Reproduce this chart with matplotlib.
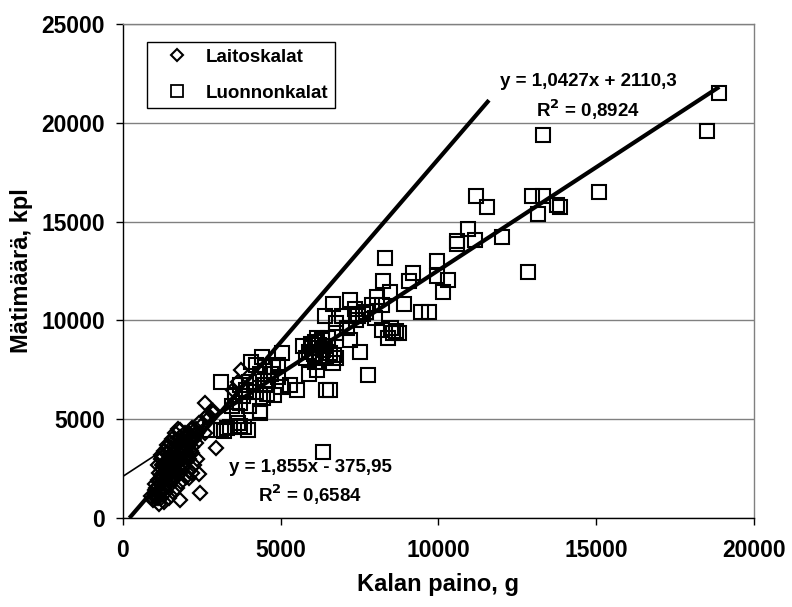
import numpy as np
import matplotlib
matplotlib.use("Agg")
import matplotlib.pyplot as plt
from matplotlib.lines import Line2D

plt.rcParams['font.family'] = ['Liberation Sans', 'DejaVu Sans']
plt.rcParams['font.weight'] = 'bold'

# Luonnonkalat (squares): paino g, mätimäärä kpl
luonto_x = [18900, 18500, 13300, 15100, 11200, 11550, 12950, 13300, 13750, 13850,
            13150, 10950, 10600, 10600, 11150, 12000, 12850, 9950, 10300, 10150,
            8300, 9200, 9050, 9950, 8250, 8450, 8050, 7200, 7350, 6650,
            7450, 7700, 7900, 8200, 8900, 9450, 9700, 6750, 7100, 7400,
            8500, 8650, 8400, 8550, 8750, 8200, 7200, 7500, 6700, 6750,
            7750, 6550, 6400, 6950, 6750, 6150, 6200, 6350, 6450, 6250,
            5900, 5800, 6550, 6650, 6150, 5900, 6450, 5500, 5050, 4900,
            4400, 4200, 4500, 4750, 4050, 4350, 4700, 4900, 5000, 5300,
            4500, 4550, 4450, 4000, 3700, 3550, 3800, 3100, 4000, 4350,
            3450, 3600, 3400, 3650, 3850, 3300, 3200, 6350, 2750, 3100,
            3700, 3950, 4350, 3550, 6000, 6100, 6300, 6050, 5950, 6200,
            6400, 5700, 6500, 6100, 4200, 4600, 3900, 4800, 3700, 7600,
            8000]
luonto_y = [21500, 19600, 19400, 16500, 16300, 15750, 16300, 16300, 15850, 15750,
            15400, 14600, 14000, 13850, 14050, 14200, 12450, 13000, 12050, 11450,
            13150, 12400, 12000, 12250, 12000, 11450, 11200, 11050, 10600, 10850,
            10200, 10450, 10800, 10800, 10850, 10400, 10400, 9850, 9600, 10000,
            9600, 9450, 9100, 9350, 9350, 9500, 9000, 8400, 8250, 8100,
            7250, 6500, 10200, 10200, 9350, 9100, 8750, 8500, 8150, 8100,
            8400, 8100, 8350, 7850, 7500, 7300, 6500, 6500, 8350, 7750,
            8150, 7750, 7650, 7650, 7900, 7300, 7300, 7150, 6650, 6750,
            6750, 6300, 6050, 6900, 6750, 6150, 6150, 6900, 5650, 5400,
            5650, 5150, 4600, 4800, 4600, 4550, 4400, 3350, 4450, 4450,
            4650, 4450, 5300, 6200, 8600, 8900, 9000, 8300, 8800, 8200,
            8700, 8700, 9100, 7900, 6400, 6950, 6500, 6200, 5800, 10300,
            10100]

# Laitoskalat (diamonds)
laitos_x = [2450, 2950, 2600, 2850, 2700, 1800, 2150, 1500, 1200, 1400,
            3650, 3750, 3500, 2650, 2850, 2200, 1150, 1800, 2400,
            950, 1000, 1050, 900, 1100, 1000, 1100,
            1150, 1200, 1250, 1200, 1300, 1150, 1250, 1300, 1200,
            1350, 1400, 1450, 1350, 1450, 1500, 1400, 1500, 1350, 1450,
            1550, 1600, 1650, 1550, 1600, 1700, 1650, 1700, 1550, 1600, 1650,
            1750, 1800, 1850, 1750, 1900, 1800, 1850, 1900, 1750, 1800,
            1950, 2000, 2050, 2000, 2100, 1950, 2050, 2100,
            2200, 2250, 2300, 2150, 2350, 2200, 2300,
            2500, 2600, 2400, 2700,
            1000, 1050, 1100, 1150, 1250, 1300, 1350, 1400, 1450, 1500,
            1550, 1600, 1650, 1700, 1750, 1850, 1900, 1950, 2050, 2150,
            1250, 1350, 1450, 1550, 1650, 1750, 1850, 1950, 2050, 2250,
            1100, 1200, 1300, 1400, 1500, 1600, 1700, 1800, 2000, 2100,
            1100, 1200, 1300, 1400, 1550, 1650, 1750, 1300, 1450, 1600,
            1700, 1850, 2000, 2100, 2250, 2350, 1250, 1400, 1500, 1650,
            1800, 1950, 2100, 2200]
laitos_y = [1250, 3550, 5800, 5400, 5200, 4450, 4450, 3800, 3200, 3550,
            6900, 7500, 6500, 5150, 5300, 4550, 700, 900, 2250,
            900, 1200, 1500, 1100, 1000, 1700, 1900,
            1300, 1700, 2100, 1000, 1500, 2300, 2500, 1900, 2000,
            1800, 2200, 2600, 2400, 1600, 2000, 2800, 2900, 1300, 3000,
            2300, 2700, 3100, 3300, 1900, 2400, 2000, 3400, 2600, 3000, 3600,
            2800, 3200, 3600, 2200, 2600, 3800, 3000, 3300, 3900, 2500,
            3500, 3900, 3200, 2900, 3700, 4100, 4200, 3000,
            3600, 4000, 3800, 4100, 4300, 3300, 4500,
            4700, 4300, 4800, 5000,
            1400, 1000, 1600, 1800, 1300, 2300, 2000, 1700, 2200, 2500,
            2000, 2400, 2700, 2900, 3100, 3400, 2800, 3100, 3600, 3400,
            2700, 2600, 2400, 2800, 2400, 2600, 2700, 3700, 3800, 4200,
            1300, 2200, 2700, 2500, 3200, 3300, 2800, 2900, 3400, 4300,
            2700, 3000, 3400, 3700, 4000, 4300, 4500, 800, 1000, 1300,
            1500, 1800, 2100, 2400, 2700, 3000, 3100, 3300, 3500, 3900,
            4100, 4300, 2000, 2300]

# trendlines as given on the chart
laitos_k, laitos_b = 1.855, -375.95
luonto_k, luonto_b = 1.0427, 2110.3

fig = plt.figure(figsize=(7.92, 6.07), dpi=100)
ax = fig.add_axes([0.1553, 0.1466, 0.7967, 0.8139])

ax.set_xlim(0, 20000)
ax.set_ylim(0, 25000)
ax.set_xticks([0, 5000, 10000, 15000, 20000])
ax.set_yticks([0, 5000, 10000, 15000, 20000, 25000])
ax.yaxis.grid(True, color='#808080', linewidth=1)
ax.set_axisbelow(True)

for s in ['top', 'right']:
    ax.spines[s].set_color('#808080')
    ax.spines[s].set_linewidth(1)
for s in ['left', 'bottom']:
    ax.spines[s].set_color('black')
    ax.spines[s].set_linewidth(1)

ax.plot(laitos_x, laitos_y, linestyle='none', marker='D', markersize=7,
        markerfacecolor='none', markeredgecolor='black', markeredgewidth=1.6, zorder=3)
ax.plot(luonto_x, luonto_y, linestyle='none', marker='s', markersize=9.5,
        markerfacecolor='none', markeredgecolor='black', markeredgewidth=1.5, zorder=3)

# Laitoskalat trend (steep)
lx = np.array([-laitos_b / laitos_k, 11600])
ax.plot(lx, laitos_k * lx + laitos_b, color='black', linewidth=3.0, zorder=4,
        solid_capstyle='butt')
# Luonnonkalat trend: thin backward part, thick over the data
tx = np.array([0, min(luonto_x)])
ax.plot(tx, luonto_k * tx + luonto_b, color='black', linewidth=1.2, zorder=4)
tx2 = np.array([min(luonto_x), max(luonto_x)])
ax.plot(tx2, luonto_k * tx2 + luonto_b, color='black', linewidth=3.0, zorder=4,
        solid_capstyle='butt')

ax.tick_params(axis='both', direction='out', length=5, width=1, color='black',
               labelsize=16.5)
ax.tick_params(axis='y', pad=8)
ax.tick_params(axis='x', pad=10)
for lab in ax.get_xticklabels() + ax.get_yticklabels():
    lab.set_fontweight('bold')

ax.set_xlabel('Kalan paino, g', fontsize=17, fontweight='bold', labelpad=8)
ax.set_ylabel('Mätimäärä, kpl', fontsize=17, fontweight='bold', labelpad=6)

ax.text(14740, 22100, 'y = 1,0427x + 2110,3', ha='center', va='center',
        fontsize=13.5, fontweight='bold')
ax.text(14740, 20650, 'R$^\\mathbf{2}$ = 0,8924', ha='center', va='center',
        fontsize=13.5, fontweight='bold')
ax.text(5930, 2580, 'y = 1,855x - 375,95', ha='center', va='center',
        fontsize=13.5, fontweight='bold')
ax.text(5930, 1165, 'R$^\\mathbf{2}$ = 0,6584', ha='center', va='center',
        fontsize=13.5, fontweight='bold')

handles = [Line2D([], [], linestyle='none', marker='D', markersize=6.5,
                  markerfacecolor='none', markeredgecolor='black', markeredgewidth=1.5),
           Line2D([], [], linestyle='none', marker='s', markersize=8,
                  markerfacecolor='none', markeredgecolor='black', markeredgewidth=1.3)]
leg = ax.legend(handles, ['Laitoskalat', 'Luonnonkalat'], loc='upper left',
                bbox_to_anchor=(0.038, 0.9636), borderaxespad=0, fancybox=False,
                framealpha=1, edgecolor='black', prop={'size': 13.5, 'weight': 'bold'},
                handlelength=2.5, handletextpad=0.3, labelspacing=1.0, borderpad=0.35)
leg.get_frame().set_linewidth(1)

fig.savefig('out.png', dpi=100)
